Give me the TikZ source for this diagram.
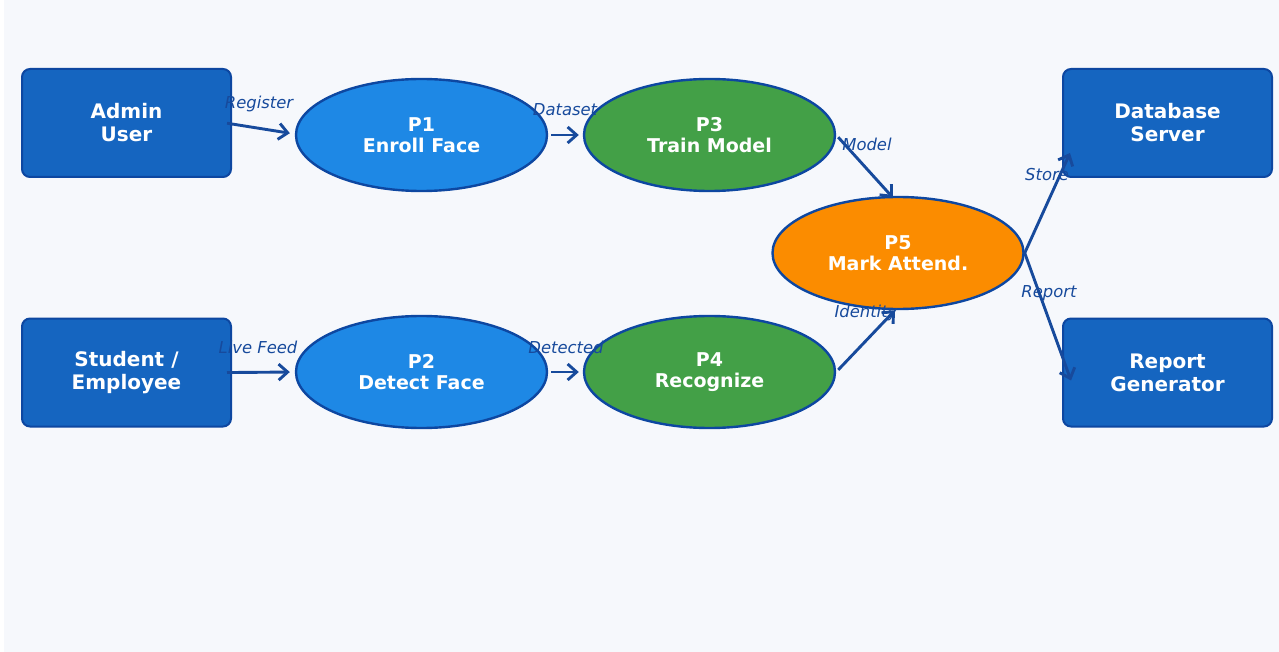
\documentclass[tikz,border=0pt]{standalone}
\usepackage{fontspec}
\setmainfont{DejaVu Sans}
\usepackage{tikz}
\usetikzlibrary{shapes.geometric,arrows.meta}

\definecolor{bgcol}{HTML}{F6F8FC}
\definecolor{boxblue}{HTML}{1565C0}
\definecolor{edgeblue}{HTML}{0D47A1}
\definecolor{procblue}{HTML}{1E88E5}
\definecolor{procgreen}{HTML}{43A047}
\definecolor{procorange}{HTML}{FB8C00}
\definecolor{arrowblue}{HTML}{174A9C}

\begin{document}
\begin{tikzpicture}[x=0.5pt,y=-0.5pt,
    actor/.style={draw=edgeblue, line width=1pt, fill=boxblue, rounded corners=4pt,
        minimum width=104.5pt, minimum height=54pt, inner sep=0pt,
        text=white, align=center, font=\fontsize{10}{11.5}\selectfont\bfseries},
    proc/.style={ellipse, draw=edgeblue, line width=1.2pt,
        minimum width=125.5pt, minimum height=56pt, inner sep=0pt,
        text=white, align=center, font=\fontsize{9.5}{10.5}\selectfont\bfseries},
    flow/.style={draw=arrowblue, line width=1.45pt, -{Straight Barb[length=4.5pt,width=8pt]}},
    tag/.style={text=arrowblue, inner sep=0pt, font=\fontsize{8.2}{9}\selectfont\itshape}]

             \useasboundingbox (0,0) rectangle (1279,652);
             \fill[white] (0,0) rectangle (1279,652);
             \fill[bgcol] (4,0) rectangle (1279,652);

             % external entities
             \node[actor] (admin) at (126.5, 123) {Admin\\User};
             \node[actor] (student) at (126.5, 372.5) {Student /\\Employee};
             \node[actor] (db) at (1167.5, 123) {Database\\Server};
             \node[actor] (report) at (1167.5, 372.5) {Report\\Generator};

             % processes
             \node[proc, fill=procblue] (p1) at (421.5, 135) {P1\\Enroll Face};
             \node[proc, fill=procblue] (p2) at (421.5, 372) {P2\\Detect Face};
             \node[proc, fill=procgreen] (p3) at (709.5, 135) {P3\\Train Model};
             \node[proc, fill=procgreen] (p4) at (709.5, 372) {P4\\Recognize};
             \node[proc, fill=procorange] (p5) at (898, 253) {P5\\Mark Attend.};

             % flow labels
             \node[tag] (lreg) at (259, 104) {Register};
             \node[tag] (lset) at (565, 110) {Dataset};
             \node[tag] (lmod) at (867, 144) {Model};
             \node[tag] (lfeed) at (258, 347) {Live Feed};
             \node[tag] (ldet) at (566, 347) {Detected};
             \node[tag] (lid) at (866, 313) {Identity};
             \node[tag] (lstore) at (1047, 175) {Store};
             \node[tag] (lrep) at (1049, 293) {Report};

             \draw[flow, shorten <=-2.5pt, shorten >=2.5pt] ([yshift=-0.5pt]admin.east) -- ([yshift=0.5pt]p1.west);
             \draw[flow, shorten <=1.5pt, shorten >=2pt] (p1) -- (p3);
             \draw[flow, shorten <=1.5pt] (p3.east) -- ([xshift=-2.5pt,yshift=-1pt]p5.north);
             \draw[flow, shorten <=-2.5pt, shorten >=2.5pt] (student.east) -- (p2.west);
             \draw[flow, shorten <=1.5pt, shorten >=2pt] (p2) -- (p4);
             \draw[flow, shorten <=1.5pt] (p4.east) -- ([xshift=-1.5pt]p5.south);
             \draw[flow] (p5.east) -- ([xshift=4pt,yshift=-15pt]db.west);
             \draw[flow] (p5.east) -- ([xshift=4.5pt,yshift=-4pt]report.west);
\end{tikzpicture}
\end{document}
